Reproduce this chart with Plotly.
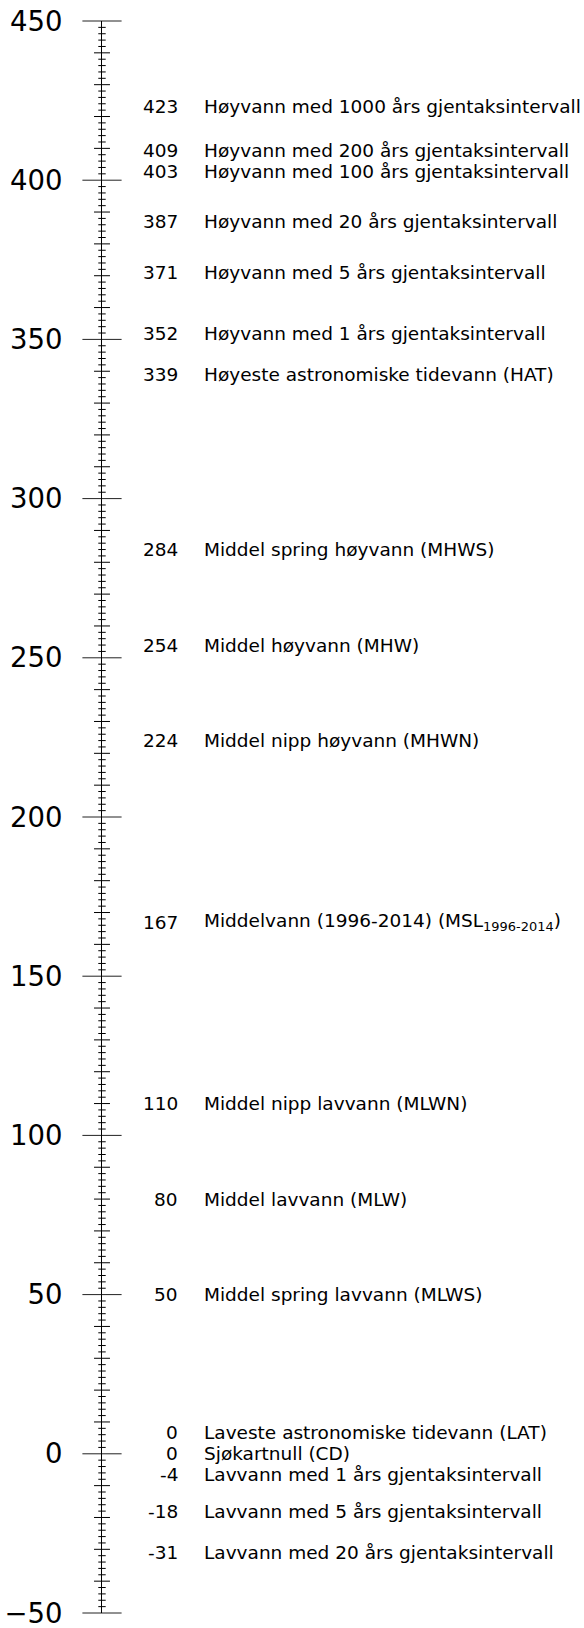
import plotly.graph_objects as go

# ---- data ----
level_values = [423, 409, 403, 387, 371, 352, 339, 284, 254, 224, 167, 110, 80, 50, 0, 0, -4, -18, -31]
level_names = [
    "Høyvann med 1000 års gjentaksintervall",
    "Høyvann med 200 års gjentaksintervall",
    "Høyvann med 100 års gjentaksintervall",
    "Høyvann med 20 års gjentaksintervall",
    "Høyvann med 5 års gjentaksintervall",
    "Høyvann med 1 års gjentaksintervall",
    "Høyeste astronomiske tidevann (HAT)",
    "Middel spring høyvann (MHWS)",
    "Middel høyvann (MHW)",
    "Middel nipp høyvann (MHWN)",
    "Middelvann (1996-2014) (MSL<sub>1996-2014</sub>)",
    "Middel nipp lavvann (MLWN)",
    "Middel lavvann (MLW)",
    "Middel spring lavvann (MLWS)",
    "Laveste astronomiske tidevann (LAT)",
    "Sjøkartnull (CD)",
    "Lavvann med 1 års gjentaksintervall",
    "Lavvann med 5 års gjentaksintervall",
    "Lavvann med 20 års gjentaksintervall",
]
axis_min, axis_max = -50, 450
major_step, medium_step, minor_step = 50, 10, 2

FONT = "DejaVu Sans"
INK = "#000000"


def spread_labels(vals, gap):
    """Spread labels that are closer than `gap` around the group's median."""
    order = sorted(range(len(vals)), key=lambda i: -vals[i])
    pos = [0.0] * len(vals)
    groups, cur = [], [order[0]]
    for i in order[1:]:
        if vals[cur[-1]] - vals[i] < gap:
            cur.append(i)
        else:
            groups.append(cur)
            cur = [i]
    groups.append(cur)
    for g in groups:
        gv = sorted(vals[i] for i in g)
        n = len(gv)
        med = gv[n // 2] if n % 2 else (gv[n // 2 - 1] + gv[n // 2]) / 2
        for k, i in enumerate(g):
            pos[i] = med + gap * ((n - 1) / 2 - k)
    return pos


label_pos = spread_labels(level_values, 6.6)

# tick positions
all_ticks = list(range(axis_min, axis_max + 1, minor_step))
major_ticks = [t for t in all_ticks if t % major_step == 0]
medium_ticks = [t for t in all_ticks if t % medium_step == 0 and t % major_step != 0]
minor_ticks = [t for t in all_ticks if t % medium_step != 0]

fig = go.Figure()


def tick_trace(yvals, size, color):
    return go.Scatter(
        x=[0] * len(yvals), y=yvals, mode="markers", cliponaxis=False,
        hoverinfo="skip",
        marker=dict(symbol="line-ew", size=size, color=color,
                    line=dict(width=1, color=color)),
    )


fig.add_trace(tick_trace(minor_ticks, 5.3, INK))
fig.add_trace(tick_trace(medium_ticks, 11.4, INK))
fig.add_trace(tick_trace(major_ticks, 28, "#222222"))

for v, name, p in zip(level_values, level_names, label_pos):
    fig.add_annotation(x=77.5, y=p, xref="x", yref="y", text=str(v), showarrow=False,
                       xanchor="right", yanchor="middle",
                       font=dict(family=FONT, size=18.5, color=INK))
    fig.add_annotation(x=100, y=p, xref="x", yref="y", text=name, showarrow=False,
                       xanchor="left", yanchor="middle",
                       font=dict(family=FONT, size=18.5, color=INK))

fig.update_layout(
    width=584, height=1628,
    margin=dict(l=102, r=0, t=20.5, b=15.3),
    paper_bgcolor="white", plot_bgcolor="white",
    showlegend=False,
    xaxis=dict(range=[0, 482], visible=False, fixedrange=True, automargin=False),
    yaxis=dict(range=[axis_min, axis_max], tick0=0, dtick=major_step,
               showgrid=False, zeroline=False, showline=True, linecolor=INK,
               linewidth=1, ticks="", ticklabelstandoff=33, automargin=False,
               ticklabeloverflow="allow",
               tickfont=dict(family=FONT, size=27.5, color=INK)),
)

fig.write_html(
    "out.html",
    config={"displayModeBar": False},
    post_script="document.body.style.margin='0';document.body.style.overflow='hidden';",
)
